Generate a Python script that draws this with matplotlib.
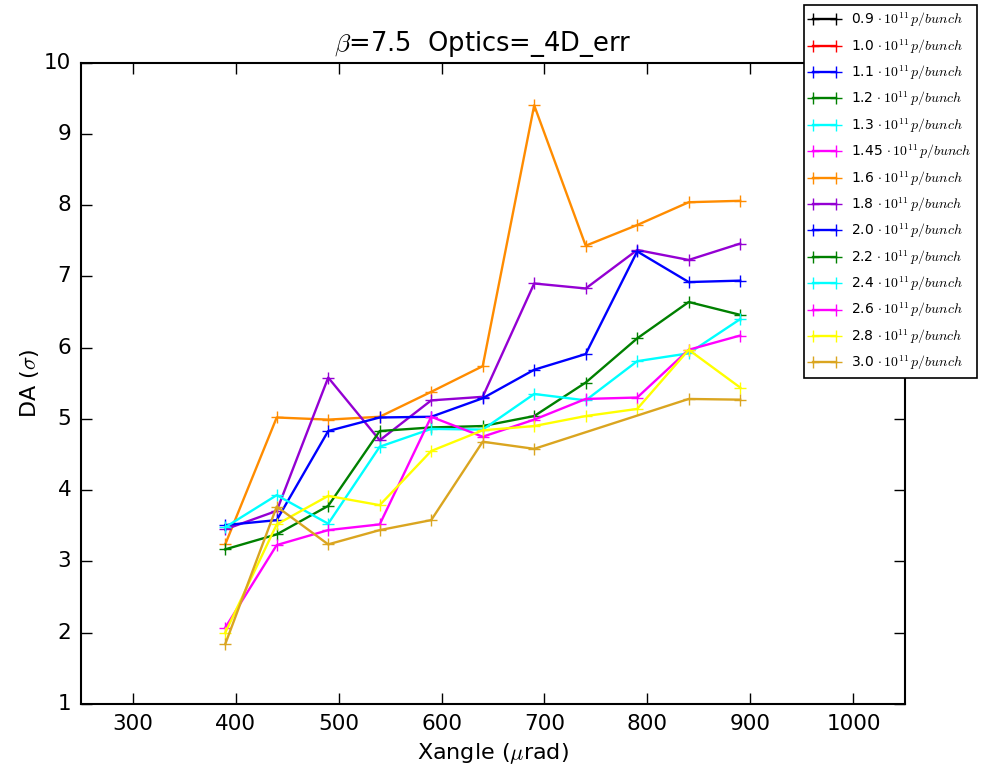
import numpy as np
import matplotlib
matplotlib.use("Agg")
import matplotlib.pyplot as plt

plt.style.use("classic")
plt.rcParams["mathtext.fontset"] = "cm"
plt.rcParams["font.family"] = ["DejaVu Sans"]

# Crossing angle scan points (µrad)
xangle = [390, 440, 490, 540, 590, 640, 690, 740, 790, 840, 890]
xangle_30 = [390, 440, 490, 540, 590, 640, 690, 840, 890]

# Bunch intensities (10^11 p/bunch) and their line colours
intensities = ["0.9", "1.0", "1.1", "1.2", "1.3", "1.45", "1.6", "1.8",
               "2.0", "2.2", "2.4", "2.6", "2.8", "3.0"]
colors = ["black", "red", "blue", "green", "cyan", "magenta", "darkorange",
          "darkviolet", "blue", "green", "cyan", "magenta", "yellow", "goldenrod"]

# Dynamic aperture (sigma) per intensity
da_09 = []
da_10 = []
da_11 = []
da_12 = []
da_13 = []
da_145 = []
da_16 = [3.24, 5.02, 4.99, 5.03, 5.38, 5.74, 9.40, 7.43, 7.72, 8.04, 8.06]
da_18 = [3.45, 3.71, 5.58, 4.70, 5.26, 5.31, 6.90, 6.83, 7.37, 7.23, 7.46]
da_20 = [3.51, 3.58, 4.83, 5.02, 5.03, 5.29, 5.69, 5.91, 7.35, 6.92, 6.94]
da_22 = [3.17, 3.38, 3.78, 4.83, 4.88, 4.90, 5.04, 5.51, 6.13, 6.64, 6.46]
da_24 = [3.48, 3.93, 3.53, 4.61, 4.86, 4.85, 5.35, 5.26, 5.81, 5.92, 6.40]
da_26 = [2.07, 3.23, 3.44, 3.52, 5.03, 4.75, 4.99, 5.28, 5.30, 5.97, 6.17]
da_28 = [2.00, 3.52, 3.92, 3.79, 4.55, 4.84, 4.90, 5.04, 5.14, 5.97, 5.44]
da_30 = [1.84, 3.77, 3.24, 3.44, 3.58, 4.68, 4.58, 5.28, 5.27]

series = [da_09, da_10, da_11, da_12, da_13, da_145, da_16, da_18,
          da_20, da_22, da_24, da_26, da_28, da_30]

fig = plt.figure(figsize=(9.81, 7.69), dpi=100, facecolor="white")
ax = fig.add_axes([0.0826, 0.0845, 0.8399, 0.8342])
ax.set_facecolor("white")

for label, col, vals in zip(intensities, colors, series):
    xs = xangle_30 if vals is da_30 else xangle[:len(vals)]
    ax.plot(xs, vals, color=col, marker="+", markersize=9, markeredgewidth=1.0,
            linewidth=1.7,
            label=label + r"$\,\cdot 10^{11}\, p/bunch$")

ax.set_xlim(250, 1050)
ax.set_ylim(1, 10)
ax.set_xticks(range(300, 1001, 100))
ax.set_yticks(range(1, 11))
ax.tick_params(labelsize=15.5, length=8, width=1, pad=7)
for s in ax.spines.values():
    s.set_linewidth(1.5)

ax.set_title(r"$\beta$=7.5  Optics=_4D_err", fontsize=18.5, pad=8, x=0.488)
ax.set_xlabel(r"Xangle ($\mu$rad)", fontsize=16)
ax.set_ylabel(r"DA ($\sigma$)", fontsize=16, labelpad=2)

leg = ax.legend(loc="upper right", bbox_to_anchor=(0.996, 0.9935),
                bbox_transform=fig.transFigure, borderaxespad=0,
                fontsize=10, numpoints=2, handlelength=2.2, labelspacing=0.56,
                fancybox=False)
leg.get_frame().set_edgecolor("black")
leg.get_frame().set_linewidth(1.2)

fig.savefig("out.png", dpi=100, facecolor="white")
